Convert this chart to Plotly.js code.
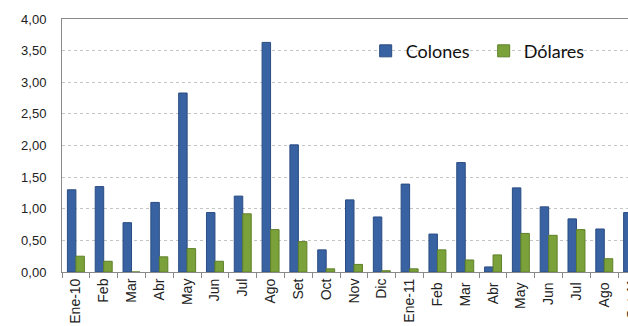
<!DOCTYPE html>
<html>
<head>
<meta charset="utf-8">
<script src="https://cdn.plot.ly/plotly-3.0.1.min.js"></script>
<style>
html, body { margin: 0; padding: 0; overflow: hidden; width: 628px; height: 326px; background: #fff; }
#chart { width: 660px; height: 326px; }
</style>
</head>
<body>
<div id="chart"></div>
<script>
const categories = ["Ene-10","Feb","Mar","Abr","May","Jun","Jul","Ago","Set","Oct","Nov","Dic",
                    "Ene-11","Feb ","Mar ","Abr ","May ","Jun ","Jul ","Ago ","Set-11"];
const colones = [1.30,1.35,0.78,1.10,2.83,0.94,1.20,3.63,2.01,0.35,1.14,0.87,
                 1.39,0.60,1.73,0.08,1.33,1.03,0.84,0.68,0.94];
const dolares = [0.25,0.17,0.00,0.24,0.37,0.17,0.92,0.67,0.48,0.05,0.12,0.02,
                 0.05,0.35,0.19,0.27,0.61,0.58,0.67,0.21,0.30];
const yTicks = [0,0.5,1,1.5,2,2.5,3,3.5,4];

const traces = [
  {type:"bar", name:"Colones", x:categories, y:colones,
   marker:{color:"#3862a2", line:{color:"#2a4c82", width:1}}},
  {type:"bar", name:"Dólares", x:categories, y:dolares,
   marker:{color:"#7ba13a", line:{color:"#5f8129", width:1}}}
];

const layout = {
  width:660, height:326,
  margin:{l:62, r:14, t:19, b:54, autoexpand:false},
  paper_bgcolor:"#fff", plot_bgcolor:"#fff",
  separators:",.",
  barmode:"group", bargap:0.39, bargroupgap:0,
  showlegend:true,
  legend:{orientation:"h", x:0.52, xanchor:"left", y:0.873, yanchor:"middle",
          bgcolor:"rgba(0,0,0,0)", font:{family:"Lato, sans-serif", size:18, color:"#111"},
          entrywidth:73, itemwidth:30, traceorder:"normal"},
  xaxis:{type:"category", tickangle:-90, tickson:"boundaries", ticks:"outside", ticklen:5,
         tickcolor:"#8a8a8a", showline:true, linecolor:"#8a8a8a", mirror:true, showgrid:false,
         tickfont:{family:"Liberation Sans, Arial, sans-serif", size:14, color:"#222"},
         range:[-0.5,20.5], fixedrange:true, automargin:false},
  yaxis:{range:[0,4], tickvals:yTicks, tickformat:".2f", showline:true, linecolor:"#8a8a8a",
         showgrid:true, gridcolor:"#c4c4c4", griddash:"dot", gridwidth:1, zeroline:false,
         ticks:"", ticklabelstandoff:12, automargin:false,
         tickfont:{family:"Liberation Sans, Arial, sans-serif", size:13, color:"#222"}}
};

Plotly.newPlot("chart", traces, layout, {displayModeBar:false, staticPlot:true});
</script>
</body>
</html>
